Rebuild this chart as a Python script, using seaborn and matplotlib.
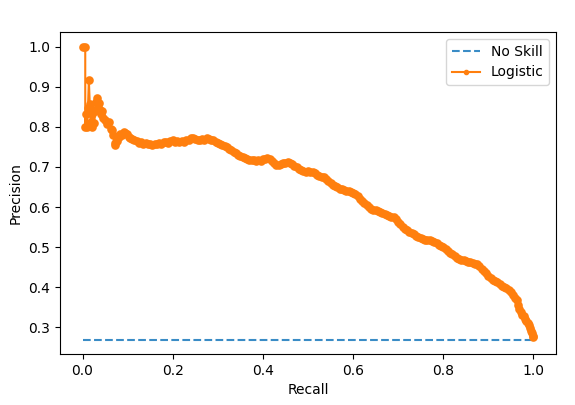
import matplotlib
matplotlib.use("Agg")
import matplotlib.pyplot as plt
import seaborn as sns
import pandas as pd

no_skill_x = [0.0, 1.0]
no_skill_y = [0.269, 0.269]

recall = [
    0.000, 0.006, 0.006, 0.008, 0.010, 0.012, 0.014, 0.016, 0.018, 0.020,
    0.022, 0.024, 0.026, 0.028, 0.030, 0.032, 0.034, 0.036, 0.038, 0.040,
    0.043, 0.046, 0.050, 0.054, 0.058, 0.062, 0.065, 0.068, 0.071, 0.073,
    0.076, 0.080, 0.084, 0.088, 0.092, 0.095, 0.099, 0.103, 0.106, 0.110,
    0.115, 0.120, 0.125, 0.130, 0.135, 0.140, 0.145, 0.150, 0.155, 0.160,
    0.165, 0.170, 0.175, 0.180, 0.185, 0.190, 0.195, 0.200, 0.205, 0.210,
    0.215, 0.220, 0.225, 0.230, 0.235, 0.240, 0.245, 0.250, 0.255, 0.260,
    0.265, 0.270, 0.275, 0.280, 0.285, 0.290, 0.295, 0.300, 0.305, 0.310,
    0.315, 0.320, 0.325, 0.330, 0.335, 0.340, 0.345, 0.350, 0.355, 0.360,
    0.365, 0.370, 0.375, 0.380, 0.385, 0.390, 0.395, 0.400, 0.405, 0.410,
    0.415, 0.420, 0.425, 0.430, 0.435, 0.440, 0.445, 0.450, 0.455, 0.460,
    0.465, 0.470, 0.475, 0.480, 0.485, 0.490, 0.495, 0.500, 0.505, 0.510,
    0.515, 0.520, 0.525, 0.530, 0.535, 0.540, 0.545, 0.550, 0.555, 0.560,
    0.565, 0.570, 0.575, 0.580, 0.585, 0.590, 0.595, 0.600, 0.605, 0.610,
    0.615, 0.620, 0.625, 0.630, 0.635, 0.640, 0.645, 0.650, 0.655, 0.660,
    0.665, 0.670, 0.675, 0.680, 0.685, 0.690, 0.695, 0.700, 0.705, 0.710,
    0.715, 0.720, 0.725, 0.730, 0.735, 0.740, 0.745, 0.750, 0.755, 0.760,
    0.765, 0.770, 0.775, 0.780, 0.785, 0.790, 0.795, 0.800, 0.805, 0.810,
    0.815, 0.820, 0.825, 0.830, 0.835, 0.840, 0.845, 0.850, 0.855, 0.860,
    0.865, 0.870, 0.875, 0.880, 0.885, 0.890, 0.895, 0.900, 0.905, 0.910,
    0.915, 0.920, 0.925, 0.930, 0.935, 0.940, 0.945, 0.950, 0.955, 0.960,
    0.963, 0.966, 0.969, 0.972, 0.975, 0.978, 0.981, 0.984, 0.987, 0.990,
    0.993, 0.995, 0.997, 0.999, 1.000,
]

precision = [
    1.000, 1.000, 0.800, 0.833, 0.800, 0.846, 0.917, 0.857, 0.812, 0.800,
    0.833, 0.842, 0.810, 0.840, 0.862, 0.871, 0.850, 0.860, 0.842, 0.833,
    0.840, 0.822, 0.817, 0.808, 0.812, 0.795, 0.792, 0.780, 0.760, 0.755,
    0.765, 0.775, 0.783, 0.780, 0.788, 0.785, 0.783, 0.775, 0.772, 0.770,
    0.768, 0.765, 0.760, 0.762, 0.758, 0.760, 0.756, 0.758, 0.755, 0.758,
    0.756, 0.759, 0.757, 0.761, 0.763, 0.760, 0.764, 0.766, 0.763, 0.765,
    0.762, 0.764, 0.762, 0.766, 0.768, 0.771, 0.773, 0.770, 0.768, 0.766,
    0.769, 0.768, 0.771, 0.770, 0.768, 0.766, 0.763, 0.760, 0.756, 0.755,
    0.751, 0.749, 0.745, 0.742, 0.738, 0.735, 0.730, 0.727, 0.724, 0.722,
    0.720, 0.718, 0.717, 0.718, 0.716, 0.717, 0.715, 0.719, 0.721, 0.722,
    0.719, 0.714, 0.709, 0.705, 0.704, 0.707, 0.709, 0.711, 0.712, 0.710,
    0.707, 0.703, 0.699, 0.695, 0.692, 0.690, 0.688, 0.689, 0.688, 0.687,
    0.684, 0.681, 0.678, 0.676, 0.674, 0.670, 0.665, 0.660, 0.656, 0.652,
    0.649, 0.646, 0.644, 0.643, 0.641, 0.640, 0.638, 0.636, 0.633, 0.628,
    0.621, 0.614, 0.609, 0.604, 0.600, 0.596, 0.593, 0.592, 0.590, 0.588,
    0.585, 0.582, 0.580, 0.577, 0.576, 0.574, 0.570, 0.563, 0.557, 0.551,
    0.546, 0.542, 0.538, 0.535, 0.532, 0.528, 0.526, 0.524, 0.521, 0.519,
    0.517, 0.517, 0.516, 0.514, 0.510, 0.506, 0.503, 0.500, 0.496, 0.491,
    0.486, 0.482, 0.478, 0.474, 0.471, 0.469, 0.467, 0.465, 0.463, 0.462,
    0.460, 0.459, 0.457, 0.452, 0.446, 0.440, 0.435, 0.429, 0.424, 0.419,
    0.415, 0.412, 0.408, 0.404, 0.400, 0.397, 0.393, 0.387, 0.380, 0.374,
    0.367, 0.356, 0.345, 0.337, 0.332, 0.328, 0.322, 0.316, 0.310, 0.305,
    0.299, 0.292, 0.285, 0.279, 0.275,
]

df_ns = pd.DataFrame({"Recall": no_skill_x, "Precision": no_skill_y})
df_lr = pd.DataFrame({"Recall": recall, "Precision": precision})

blue = "#3a8cc6"
orange = "#ff7f0e"

fig = plt.figure(figsize=(5.75, 4.05), dpi=100)
ax = fig.add_axes([60 / 575, 1 - 354 / 405, (556 - 60) / 575, (354 - 32) / 405])

sns.lineplot(data=df_ns, x="Recall", y="Precision", ax=ax, color=blue,
             linestyle="--", linewidth=1.5, label="No Skill", sort=False, estimator=None)
sns.lineplot(data=df_lr, x="Recall", y="Precision", ax=ax, color=orange,
             marker=".", markersize=10, markeredgewidth=1.2,
             markeredgecolor=orange, markerfacecolor=orange, linewidth=1.5,
             label="Logistic", sort=False, estimator=None)

ax.set_xlim(-0.05, 1.05)
ax.set_ylim(0.2335, 1.0365)
ax.set_xticks([0.0, 0.2, 0.4, 0.6, 0.8, 1.0])
ax.set_yticks([0.3, 0.4, 0.5, 0.6, 0.7, 0.8, 0.9, 1.0])
ax.set_xlabel("Recall")
ax.set_ylabel("Precision")

leg = ax.legend(loc="upper right")
for h in leg.legend_handles:
    try:
        h.set_markersize(6)
        h.set_markeredgewidth(1.0)
    except Exception:
        pass

fig.savefig("out.png", dpi=100)
